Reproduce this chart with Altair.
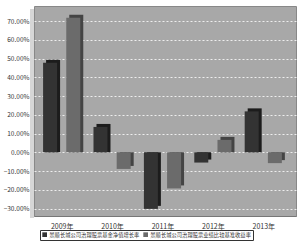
import altair as alt
import pandas as pd
import json

years = ["2009年", "2010年", "2011年", "2012年", "2013年"]
fund = [0.478, 0.135, -0.302, -0.055, 0.218]
bench = [0.718, -0.089, -0.193, 0.066, -0.058]
series = ["景顺长城公司治理股票基金净值增长率", "景顺长城公司治理股票业绩比较基准收益率"]
y_ticks = [-0.3, -0.2, -0.1, 0.0, 0.1, 0.2, 0.3, 0.4, 0.5, 0.6, 0.7]

rows = []
for i, y in enumerate(years):
    rows.append({"pos": i - 0.23, "series": series[0], "value": fund[i]})
    rows.append({"pos": i + 0.23, "series": series[1], "value": bench[i]})
df = pd.DataFrame(rows)

font = "Noto Sans CJK SC"
label_expr = json.dumps(years, ensure_ascii=False) + "[round(datum.value)]"

x_enc = alt.X("pos:Q", title=None,
              scale=alt.Scale(domain=[-0.45, 4.55], nice=False, zero=False),
              axis=alt.Axis(values=[0, 1, 2, 3, 4], labelExpr=label_expr,
                            labelAngle=0, labelFontSize=7, labelColor="#333",
                            labelFont=font, ticks=False, domainColor="#777",
                            grid=False, labelPadding=6))
y_enc = alt.Y("value:Q", title=None,
              scale=alt.Scale(domain=[-0.34, 0.78], nice=False, zero=False),
              axis=alt.Axis(values=y_ticks, format=".2%", labelFontSize=6.5,
                            labelColor="#333", labelFont=font, ticks=False,
                            domain=False, gridColor="#ffffff", gridDash=[2, 2],
                            gridOpacity=0.8, labelPadding=5))

wall = alt.Chart(df).mark_rect(color="#d6d6d6").encode(
    x=alt.value(-4), x2=alt.value(0), y=alt.value(3), y2=alt.value(212)
)

shadow = alt.Chart(df).mark_bar(width=14, xOffset=3, yOffset=-3).encode(
    x=x_enc, y=y_enc, y2=alt.datum(0),
    color=alt.Color("series:N", sort=series, legend=None,
                    scale=alt.Scale(domain=series, range=["#1c1c1c", "#444444"])),
)

front = alt.Chart(df).mark_bar(width=14).encode(
    x=x_enc, y=y_enc, y2=alt.datum(0),
    fill=alt.Fill("series:N", sort=series, title=None,
                  scale=alt.Scale(domain=series, range=["#333333", "#6b6b6b"]),
                  legend=alt.Legend(orient="none", legendX=6, legendY=224,
                                    direction="horizontal",
                                    symbolType="square", symbolSize=22,
                                    labelFontSize=5.3, labelFont=font,
                                    labelColor="#333", strokeColor="#333",
                                    padding=2, columnPadding=3, labelOffset=2,
                                    symbolStrokeWidth=0, labelLimit=200)),
)

chart = alt.layer(wall, shadow, front).resolve_scale(color="independent").properties(
    width=262, height=210,
    background="white",
    padding={"left": 34, "top": 6, "right": 4, "bottom": 30},
    autosize=alt.AutoSizeParams(type="none"),
).configure_view(fill="#a8a8a8", stroke="#888", strokeWidth=1)

chart.save("out.html", embed_options={"renderer": "svg", "actions": False})
